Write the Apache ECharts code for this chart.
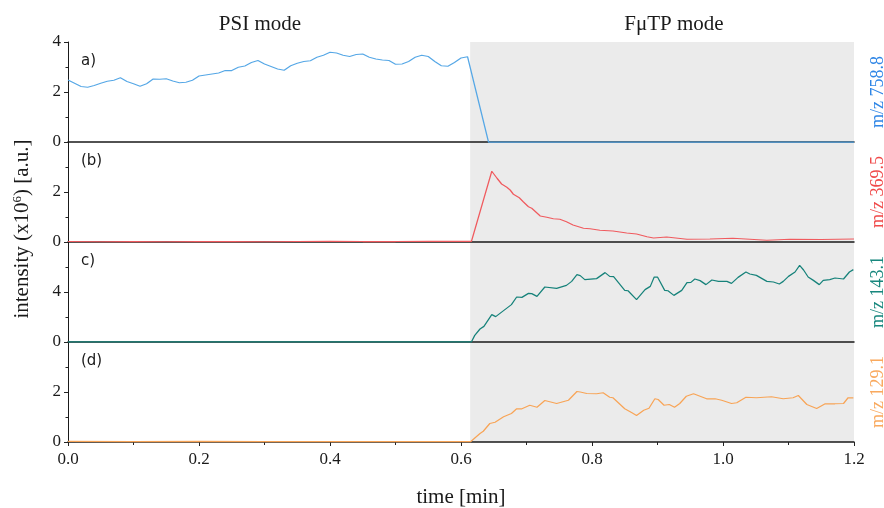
<!DOCTYPE html>
<html>
<head>
<meta charset="utf-8">
<script src="https://cdn.jsdelivr.net/npm/echarts@6/dist/echarts.min.js"></script>
<style>
  html, body { margin: 0; padding: 0; background: #fff; }
  #chart { width: 884px; height: 508px; }
</style>
</head>
<body>
<div id="chart"></div>
<script>
// Time axis ticks and the two operating windows
const timeTicks = [0.0, 0.2, 0.4, 0.6, 0.8, 1.0, 1.2];
const fmtpWindow = [0.614, 1.2];
const modeTitles = ['PSI mode', 'F\u03bcTP mode'];

// Panel labels, ion traces and y ranges (x10^6)
const panelTags = ['a)', '(b)', 'c)', '(d)'];
const ionNames = ['m/z 758.8', 'm/z 369.5', 'm/z 143.1', 'm/z 129.1'];
const yMax = [4, 4, 8, 4];
const yStep = [2, 2, 4, 2];

// m/z 758.8
const timeA = [0,0.01,0.02,0.03,0.04,0.05,0.06,0.07,0.08,0.09,
  0.10,0.11,0.12,0.13,0.14,0.15,0.16,0.17,0.18,0.19,
  0.20,0.21,0.22,0.23,0.24,0.25,0.26,0.27,0.28,0.29,
  0.30,0.31,0.32,0.33,0.34,0.35,0.36,0.37,0.38,0.39,
  0.40,0.41,0.42,0.43,0.44,0.45,0.46,0.47,0.48,0.49,
  0.50,0.51,0.52,0.53,0.54,0.55,0.56,0.57,0.58,0.59,
  0.60,0.61,0.642,1.2];
const intA = [2.48,2.35,2.22,2.19,2.26,2.35,2.43,2.47,2.57,2.42,
  2.33,2.23,2.33,2.52,2.51,2.53,2.44,2.37,2.39,2.47,
  2.64,2.68,2.72,2.76,2.86,2.86,2.99,3.04,3.18,3.26,
  3.12,3.02,2.92,2.87,3.05,3.15,3.22,3.25,3.39,3.47,
  3.59,3.56,3.47,3.42,3.50,3.52,3.39,3.32,3.28,3.26,
  3.11,3.12,3.22,3.39,3.47,3.42,3.22,3.05,3.03,3.18,
  3.36,3.41,0,0];

// m/z 369.5
const timeB = [0,0.05,0.1,0.15,0.2,0.25,0.3,0.35,0.4,0.45,0.5,0.55,0.6,0.616,
  0.647,0.655,0.662,0.670,0.675,0.680,0.689,0.695,0.703,0.708,
  0.721,0.731,0.741,0.751,0.761,0.771,0.787,0.797,0.812,0.832,
  0.853,0.868,0.884,0.894,0.914,0.945,0.98,1.015,1.067,1.102,
  1.15,1.2];
const intB = [0.02,0.01,0.02,0.01,0.02,0.02,0.01,0.02,0.03,0.02,0.02,0.03,0.03,0.03,
  2.83,2.55,2.32,2.19,2.08,1.91,1.77,1.61,1.41,1.35,
  1.04,0.99,0.93,0.91,0.81,0.68,0.55,0.53,0.47,0.44,
  0.36,0.32,0.21,0.16,0.20,0.11,0.12,0.15,0.07,0.11,
  0.10,0.12];

// m/z 143.1
const timeC = [0,0.1,0.2,0.3,0.4,0.5,0.6,0.616,0.621,0.629,0.635,0.647,0.653,0.665,
  0.677,0.685,0.693,0.703,0.708,0.716,0.728,0.746,0.761,0.769,0.777,0.782,0.789,
  0.807,0.820,0.827,0.833,0.850,0.855,0.868,0.881,0.889,0.895,0.900,0.911,0.916,
  0.925,0.937,0.945,0.951,0.957,0.965,0.974,0.983,0.993,1.006,1.013,1.023,1.035,
  1.041,1.051,1.067,1.077,1.086,1.092,1.100,1.110,1.117,1.123,1.130,1.138,1.147,
  1.153,1.163,1.171,1.184,1.193,1.199];
const intC = [0.02,0.01,0.02,0.01,0.02,0.01,0.02,0.02,0.53,1.04,1.25,2.19,2.03,2.51,
  2.99,3.60,3.57,3.89,3.87,3.65,4.40,4.29,4.53,4.85,5.39,5.31,4.99,
  5.07,5.55,5.25,5.23,4.13,4.10,3.39,4.19,4.45,5.20,5.20,4.13,4.10,
  3.73,4.13,4.75,4.77,5.04,4.91,4.59,4.96,4.85,4.85,4.69,5.17,5.60,
  5.44,5.33,4.85,4.80,4.64,4.85,5.25,5.60,6.13,5.76,5.20,4.93,4.59,
  4.93,4.99,5.12,5.04,5.60,5.79];

// m/z 129.1
const timeD = [0,0.1,0.2,0.3,0.4,0.5,0.6,0.615,0.629,0.634,0.644,0.652,0.665,0.677,
  0.685,0.693,0.705,0.716,0.728,0.746,0.764,0.777,0.782,0.792,0.807,0.817,0.827,
  0.832,0.850,0.861,0.868,0.879,0.887,0.896,0.901,0.910,0.918,0.926,0.934,0.944,
  0.955,0.965,0.975,0.988,0.998,1.013,1.021,1.035,1.051,1.074,1.092,1.107,1.115,
  1.128,1.143,1.156,1.171,1.184,1.191,1.199];
const intD = [0.03,0.02,0.03,0.02,0.02,0.02,0.02,0.02,0.34,0.43,0.74,0.79,1.01,1.14,
  1.33,1.33,1.47,1.39,1.66,1.54,1.67,2.02,2.00,1.94,1.93,1.97,1.79,
  1.77,1.33,1.17,1.06,1.27,1.35,1.73,1.70,1.47,1.50,1.39,1.54,1.83,
  1.93,1.83,1.73,1.73,1.67,1.54,1.57,1.79,1.77,1.81,1.73,1.77,1.86,
  1.50,1.34,1.53,1.53,1.54,1.77,1.77];

const traces = [[timeA, intA], [timeB, intB], [timeC, intC], [timeD, intD]];
const lineColors = ['#55a7e6', '#f05a5e', '#16827a', '#f8a456'];
const textColors = ['#2f86e6', '#f04a4a', '#17877d', '#f9a95e'];

const SERIF = '"Liberation Serif", "DejaVu Serif", serif';
const SANS = '"DejaVu Sans", "Liberation Sans", sans-serif';

// Layout of the stacked panels
const plotLeft = 68, plotRight = 854, plotTop = 42, panelH = 100;

const chart = echarts.init(document.getElementById('chart'), null, { renderer: 'canvas' });

const grids = [], xAxes = [], yAxes = [], series = [], graphics = [];

traces.forEach(function (tr, i) {
  const isBottom = i === traces.length - 1;
  grids.push({ left: plotLeft, width: plotRight - plotLeft, top: plotTop + panelH * i, height: panelH });
  xAxes.push({
    type: 'value', gridIndex: i, min: timeTicks[0], max: timeTicks[timeTicks.length - 1],
    interval: timeTicks[1] - timeTicks[0], z: 2,
    axisLine: { show: true, onZero: false, lineStyle: { color: '#1a1a1a', width: 1.5 } },
    axisTick: { show: isBottom, length: 4, lineStyle: { color: '#222' } },
    minorTick: { show: isBottom, splitNumber: 2, length: 3, lineStyle: { color: '#222' } },
    splitLine: { show: false },
    axisLabel: {
      show: isBottom, margin: 9, color: '#1a1a1a', fontFamily: SERIF, fontSize: 17,
      formatter: function (v) { return v.toFixed(1); }
    }
  });
  yAxes.push({
    type: 'value', gridIndex: i, min: 0, max: yMax[i], interval: yStep[i], z: 2,
    axisLine: { show: true, lineStyle: { color: '#1a1a1a', width: 1 } },
    axisTick: { show: true, length: 4, lineStyle: { color: '#222' } },
    minorTick: { show: true, splitNumber: 2, length: 2.5, lineStyle: { color: '#222' } },
    splitLine: { show: false },
    axisLabel: {
      margin: 7, color: '#1a1a1a', fontFamily: SERIF, fontSize: 17,
      showMaxLabel: i === 0
    }
  });
  // shaded FμTP window
  series.push({
    type: 'line', xAxisIndex: i, yAxisIndex: i, silent: true, symbol: 'none',
    data: [[fmtpWindow[0], 0], [fmtpWindow[1], 0]],
    lineStyle: { opacity: 0 }, z: 1,
    markArea: {
      silent: true, z: 1,
      itemStyle: { color: '#ebebeb' },
      data: [[{ xAxis: fmtpWindow[0] }, { xAxis: fmtpWindow[1] }]]
    }
  });
  series.push({
    type: 'line', name: ionNames[i], xAxisIndex: i, yAxisIndex: i, z: 3,
    symbol: 'none', smooth: false, animation: false, clip: false,
    lineStyle: { color: lineColors[i], width: 1.25 },
    data: tr[0].map(function (t, k) { return [t, tr[1][k]]; })
  });
  graphics.push({
    type: 'text', x: 81, y: plotTop + panelH * i + 19,
    style: { text: panelTags[i], font: '15px ' + SANS, fill: '#1a1a1a', align: 'left', verticalAlign: 'middle' }
  });
  graphics.push({
    type: 'text', x: 878, y: plotTop + panelH * i + panelH / 2, rotation: Math.PI / 2,
    style: { text: ionNames[i], font: '18px ' + SERIF, fill: textColors[i], align: 'center', verticalAlign: 'middle' }
  });
});

graphics.push({
  type: 'text', x: 260, y: 24,
  style: { text: modeTitles[0], font: '21px ' + SERIF, fill: '#1a1a1a', align: 'center', verticalAlign: 'middle' }
});
graphics.push({
  type: 'text', x: 674, y: 24,
  style: { text: modeTitles[1], font: '21px ' + SERIF, fill: '#1a1a1a', align: 'center', verticalAlign: 'middle' }
});
graphics.push({
  type: 'text', x: 461, y: 497,
  style: { text: 'time [min]', font: '21px ' + SERIF, fill: '#1a1a1a', align: 'center', verticalAlign: 'middle' }
});
graphics.push({
  type: 'text', x: 22, y: 229, rotation: Math.PI / 2,
  style: {
    text: 'intensity (x10{sup|6}) [a.u.]',
    font: '21px ' + SERIF, fill: '#1a1a1a', align: 'center', verticalAlign: 'middle',
    rich: { sup: { fontSize: 13, fontFamily: SERIF, verticalAlign: 'top', lineHeight: 22, padding: [0, 0, 7, 0] } }
  }
});

chart.setOption({
  animation: false,
  backgroundColor: '#ffffff',
  grid: grids,
  xAxis: xAxes,
  yAxis: yAxes,
  series: series,
  graphic: graphics
});
</script>
</body>
</html>
